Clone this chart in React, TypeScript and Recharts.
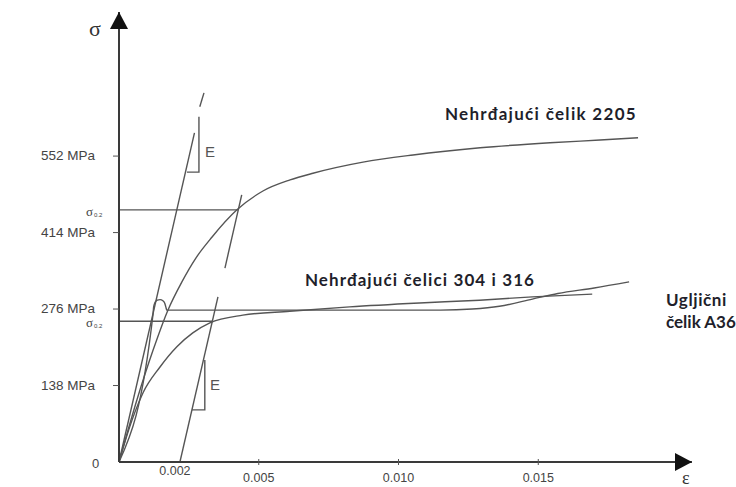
import { LineChart, Line, XAxis, YAxis, ReferenceDot } from 'recharts'

// strain / stress (MPa)
const X_MAX = 0.0205
const Y_MAX = 812

const xTicks = [0.002, 0.005, 0.01, 0.015]
const xTickLabels = ['0.002', '0.005', '0.010', '0.015']
const yTicks = [138, 276, 414, 552]
const sigma02 = [254, 455]

const duplexStrain = [0, 0.00064, 0.00122, 0.00175, 0.00225, 0.00275, 0.00333, 0.00422, 0.00515, 0.00612, 0.00694, 0.00873, 0.01052, 0.01292, 0.01542, 0.01721, 0.01857]
const duplexStress = [0, 112, 202, 274, 325, 368, 406, 455, 489, 509, 521, 541, 554, 567, 576, 581, 585]

const austStrain = [0, 0.00021, 0.00057, 0.00086, 0.00146, 0.00207, 0.00264, 0.00325, 0.00443, 0.00611, 0.00825, 0.01075, 0.0129, 0.01479, 0.01693]
const austStress = [0, 36, 90, 125, 171, 208, 233, 251, 265, 272, 280, 287, 292, 298, 303]

const carbonStrain = [0, 0.00122, 0.00124, 0.00129, 0.00137, 0.00147, 0.00157, 0.00164, 0.00168, 0.00171, 0.005, 0.0115, 0.01264, 0.01361, 0.01479, 0.0157, 0.017, 0.01825]
const carbonStress = [0, 268, 280, 288, 292, 293, 291, 286, 279, 274, 274, 274, 276, 281, 294, 304, 314, 325]

const modulusStrain = [0, 0.0027]
const modulusStress = [0, 594]
const modulusTickStrain = [0.00289, 0.00304]
const modulusTickStress = [641, 666]

const offsetUpperStrain = [0.00379, 0.00439]
const offsetUpperStress = [350, 482]
const offsetLowerStrain = [0.00218, 0.00354]
const offsetLowerStress = [0, 298]

const triUpperStrain = [0.00243, 0.00286, 0.00286]
const triUpperStress = [523, 523, 623]
const triLowerStrain = [0.00261, 0.00307, 0.00307]
const triLowerStress = [94, 94, 184]

const yieldUpperStrain = [0, 0.00427]
const yieldLowerStrain = [0, 0.00334]

const zip = (xs: number[], ys: number[]) => xs.map((x, i) => ({ x, y: ys[i] }))
const flat = (xs: number[], level: number) => xs.map((x) => ({ x, y: level }))

const INK = '#555'
const LABEL = '#1f1f2b'
const TICK_FONT = 'Liberation Sans, Arial, sans-serif'

const YTick = (props: any) => {
  const { x, y, payload } = props
  const v = payload.value
  if (v === 0) {
    return (
      <text x={x - 27} y={y + 6} fontSize={13} fill="#444" fontFamily={TICK_FONT}>
        0
      </text>
    )
  }
  if (sigma02.includes(v)) {
    return (
      <g fill="#444">
        <text x={x - 33} y={y + 6} fontSize={13} fontFamily="Liberation Serif, serif">σ</text>
        <text x={x - 25} y={y + 7} fontSize={6} fontFamily={TICK_FONT}>0.2</text>
      </g>
    )
  }
  return (
    <g>
      <line x1={x - 6} x2={x} y1={y} y2={y} stroke={INK} strokeWidth={1} />
      <text x={x - 24} y={y + 4} textAnchor="end" fontSize={13.5} fill="#444" fontFamily={TICK_FONT}>
        {v} MPa
      </text>
    </g>
  )
}

const XTick = (props: any) => {
  const { x, y, index } = props
  const first = index === 0
  return (
    <g>
      {!first && <line x1={x} x2={x} y1={y - 3} y2={y + 3} stroke={INK} strokeWidth={1} />}
      <text
        x={x}
        y={first ? y + 13 : y + 20}
        textAnchor="middle"
        fontSize={12.5}
        fill="#444"
        fontFamily={TICK_FONT}
      >
        {xTickLabels[index]}
      </text>
    </g>
  )
}

const upArrow = (p: any) => (
  <g>
    <polygon points={`${p.cx},${p.cy} ${p.cx - 9},${p.cy + 17} ${p.cx + 9},${p.cy + 17}`} fill="#111" />
    <text x={p.cx - 30} y={p.cy + 24} fontSize={22} fill="#333" fontFamily="Liberation Serif, serif">σ</text>
  </g>
)

const rightArrow = (p: any) => (
  <g>
    <polygon points={`${p.cx},${p.cy} ${p.cx - 17},${p.cy - 9} ${p.cx - 17},${p.cy + 9}`} fill="#111" />
    <text x={p.cx - 10} y={p.cy + 22} fontSize={18} fill="#333" fontFamily="Liberation Serif, serif">ε</text>
  </g>
)

const label = (text: string, size: number, color: string, weight: number, spacing = 0) => (p: any) => (
  <text
    x={p.cx}
    y={p.cy}
    fontSize={size}
    fill={color}
    fontWeight={weight}
    letterSpacing={spacing}
    fontFamily={weight > 400 ? 'Lato, sans-serif' : TICK_FONT}
  >
    {text}
  </text>
)

const line = (data: { x: number; y: number }[], key: string, curved = false) => (
  <Line
    key={key}
    data={data}
    dataKey="y"
    type={curved ? 'monotone' : 'linear'}
    stroke={INK}
    strokeWidth={1.4}
    dot={false}
    activeDot={false}
    isAnimationActive={false}
  />
)

export default function App() {
  return (
    <div style={{ position: 'absolute', left: 0, top: 0, width: 736, height: 487, background: '#fff' }}>
      <LineChart width={736} height={487} margin={{ top: 12, right: 44, bottom: 0, left: 0 }}>
        <XAxis
          type="number"
          dataKey="x"
          domain={[0, X_MAX]}
          allowDataOverflow
          ticks={xTicks}
          interval={0}
          tick={<XTick />}
          tickLine={false}
          tickSize={0}
          tickMargin={0}
          height={25}
          axisLine={{ stroke: '#3a3a3a', strokeWidth: 2 }}
        />
        <YAxis
          type="number"
          domain={[0, Y_MAX]}
          allowDataOverflow
          ticks={[0, ...yTicks, ...sigma02].sort((a, b) => a - b)}
          interval={0}
          tick={<YTick />}
          tickLine={false}
          tickSize={0}
          tickMargin={0}
          width={119}
          axisLine={{ stroke: '#3a3a3a', strokeWidth: 2 }}
        />
        {line(flat(yieldUpperStrain, sigma02[1]), 'yu')}
        {line(flat(yieldLowerStrain, sigma02[0]), 'yl')}
        {line(zip(modulusStrain, modulusStress), 'e')}
        {line(zip(modulusTickStrain, modulusTickStress), 'et')}
        {line(zip(offsetUpperStrain, offsetUpperStress), 'ou')}
        {line(zip(offsetLowerStrain, offsetLowerStress), 'ol')}
        {line(zip(triUpperStrain, triUpperStress), 'tu')}
        {line(zip(triLowerStrain, triLowerStress), 'tl')}
        {line(zip(carbonStrain, carbonStress), 'c', true)}
        {line(zip(austStrain, austStress), 'a', true)}
        {line(zip(duplexStrain, duplexStress), 'd', true)}
        <ReferenceDot x={0} y={Y_MAX} r={0} ifOverflow="visible" shape={upArrow} />
        <ReferenceDot x={X_MAX} y={0} r={0} ifOverflow="visible" shape={rightArrow} />
        <ReferenceDot x={0.00308} y={550} r={0} ifOverflow="visible" shape={label('E', 15, '#555', 400)} />
        <ReferenceDot x={0.00326} y={130} r={0} ifOverflow="visible" shape={label('E', 15, '#555', 400)} />
        <ReferenceDot x={0.01166} y={617} r={0} ifOverflow="visible" shape={label('Nehrđajući čelik 2205', 17, LABEL, 700, 1.3)} />
        <ReferenceDot x={0.00665} y={318} r={0} ifOverflow="visible" shape={label('Nehrđajući čelici 304 i 316', 17, LABEL, 700, 1.1)} />
        <ReferenceDot x={0.01957} y={281} r={0} ifOverflow="visible" shape={label('Ugljični', 17, LABEL, 700, 0.6)} />
        <ReferenceDot x={0.01957} y={241} r={0} ifOverflow="visible" shape={label('čelik A36', 17, LABEL, 700)} />
      </LineChart>
    </div>
  )
}
